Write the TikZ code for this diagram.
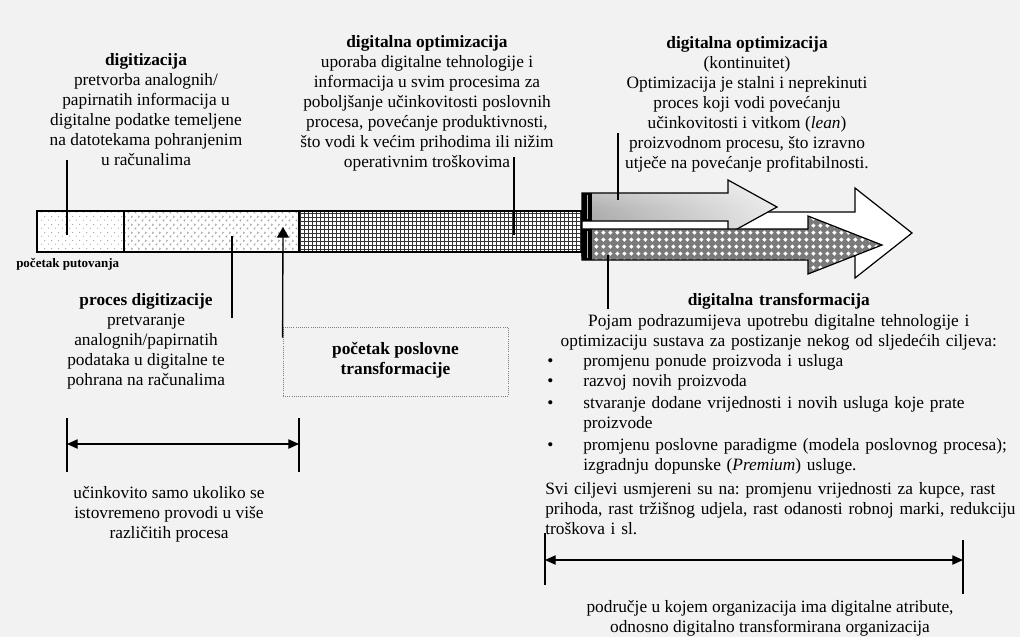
\documentclass[tikz,border=0pt]{standalone}
\usepackage{fontspec}
\setmainfont{Liberation Serif}
\usetikzlibrary{patterns,patterns.meta,arrows.meta,fadings}
\definecolor{bgcol}{HTML}{F2F2F2}
\frenchspacing
\pgfdeclarepattern{
  name=sparsedots, type=uncolored,
  bottom left={\pgfpoint{0pt}{0pt}}, top right={\pgfpoint{5pt}{6pt}},
  tile size={\pgfpoint{5pt}{6pt}},
  code={
    \pgfpathcircle{\pgfpoint{1.2pt}{1.5pt}}{0.45pt}
    \pgfpathcircle{\pgfpoint{3.7pt}{4.5pt}}{0.45pt}
    \pgfusepath{fill}
  }
}
\pgfdeclarepattern{
  name=chevs, type=uncolored,
  bottom left={\pgfpoint{0pt}{0pt}}, top right={\pgfpoint{5pt}{6pt}},
  tile size={\pgfpoint{5pt}{6pt}},
  code={
    \pgfsetlinewidth{0.45pt}
    \pgfpathmoveto{\pgfpoint{1.8pt}{0.5pt}}
    \pgfpathlineto{\pgfpoint{0.7pt}{1.3pt}}
    \pgfpathlineto{\pgfpoint{1.8pt}{2.1pt}}
    \pgfusepath{stroke}
    \pgfpathmoveto{\pgfpoint{3.2pt}{3.5pt}}
    \pgfpathlineto{\pgfpoint{4.3pt}{4.3pt}}
    \pgfpathlineto{\pgfpoint{3.2pt}{5.1pt}}
    \pgfusepath{stroke}
  }
}
\pgfdeclarepattern{
  name=diams, type=uncolored,
  bottom left={\pgfpoint{0pt}{0pt}}, top right={\pgfpoint{5.5pt}{5.5pt}},
  tile size={\pgfpoint{5.5pt}{5.5pt}},
  code={
    \pgfpathmoveto{\pgfpoint{2.75pt}{1.0pt}}
    \pgfpathlineto{\pgfpoint{4.5pt}{2.75pt}}
    \pgfpathlineto{\pgfpoint{2.75pt}{4.5pt}}
    \pgfpathlineto{\pgfpoint{1.0pt}{2.75pt}}
    \pgfpathclose
    \pgfusepath{fill}
  }
}
\newlength\rw \setlength\rw{350.25pt}
\newcommand\bitem[1]{\makebox[28.5pt][l]{\hspace{1.5pt}\textbullet}#1}
\begin{document}
\begin{tikzpicture}[x=0.75pt,y=-0.75pt,
  txt/.style={font=\fontsize{13}{15}\selectfont, align=center, inner sep=0pt, anchor=north},
  ptr/.style={line width=1pt, black},
  dimline/.style={line width=0.9pt, black},
  dimarrow/.style={line width=0.9pt, black, {Triangle[length=8pt,width=7pt]}-{Triangle[length=8pt,width=7pt]}},
  arrowline/.style={line width=0.9pt, black, line join=miter}
]
\useasboundingbox (0,0) rectangle (1020,637);
\fill[bgcol] (0,0) rectangle (1020,637);

% ---- bar
\fill[white] (37,211) rectangle (582,252);
\path[pattern=sparsedots, pattern color=gray!80] (37,211) rectangle (124,252);
\path[pattern=chevs, pattern color=gray!80] (124,211) rectangle (299,252);
\path[pattern={Hatch[angle=0,distance=3pt,line width=0.55pt]}, pattern color=black!80] (299,211) rectangle (582,252);
\draw[line width=1pt] (37,211) rectangle (582,252);
\draw[line width=0.9pt] (124,211) -- (124,252) (299,211) -- (299,252);

% ---- big white arrow
\draw[arrowline, fill=white] (582,212) -- (855,212) -- (855,188) -- (912,233) -- (855,278) -- (855,256) -- (582,256) -- cycle;
% ---- gray arrow
\path[top color=gray!35, bottom color=gray!75, middle color=gray!62] (582,193) -- (728,193) -- (728,180) -- (777,207) -- (728,234) -- (728,221) -- (582,221) -- cycle;
\fill[white, path fading=west, fill opacity=0.75] (582,193) -- (728,193) -- (728,180) -- (777,207) -- (728,234) -- (728,221) -- (582,221) -- cycle;
\draw[arrowline] (582,193) -- (728,193) -- (728,180) -- (777,207) -- (728,234) -- (728,221) -- (582,221) -- cycle;
% ---- checker arrow
\path[preaction={fill=black!52}, pattern=diams, pattern color=white] (582,229) -- (808,229) -- (808,216) -- (882,245) -- (808,274) -- (808,260) -- (582,260) -- cycle;
\draw[arrowline] (582,229) -- (808,229) -- (808,216) -- (882,245) -- (808,274) -- (808,260) -- (582,260) -- cycle;
% ---- dark end bands
\fill[black] (582,193) rectangle (592,221);
\fill[black] (582,229) rectangle (592,260);
\draw[gray!60, line width=0.8pt] (587.5,195) -- (587.5,219) (587.5,231) -- (587.5,258);

% ---- text blocks
\node[txt] (dig) at (146,51) {\strut\textbf{digitizacija}\\pretvorba analognih/\\papirnatih informacija u\\digitalne podatke temeljene\\na datotekama pohranjenim\\u računalima};
\node[txt] (opt) at (427,33) {\strut\textbf{digitalna optimizacija}\\uporaba digitalne tehnologije i\\informacija u svim procesima za\\poboljšanje učinkovitosti poslovnih\\procesa, povećanje produktivnosti,\\što vodi k većim prihodima ili nižim\\operativnim troškovima};
\node[txt] (kont) at (747,34) {\strut\textbf{digitalna optimizacija}\\(kontinuitet)\\Optimizacija je stalni i neprekinuti\\proces koji vodi povećanju\\učinkovitosti i vitkom (\textit{lean})\\proizvodnom procesu, što izravno\\utječe na povećanje profitabilnosti.};
\node[txt] (proc) at (146,291) {\strut\textbf{proces digitizacije}\\pretvaranje\\analognih/papirnatih\\podataka u digitalne te\\pohrana na računalima};
\node[txt] (eff) at (169,484) {\strut učinkovito samo ukoliko se\\istovremeno provodi u više\\različitih procesa};
\node[txt] (area) at (770,598) {\strut područje u kojem organizacija ima digitalne atribute,\\odnosno digitalno transformirana organizacija};
\node[font=\bfseries\fontsize{9.75}{11}\selectfont, anchor=base west, inner sep=0pt] (start) at (16,267) {početak putovanja};
\node[txt, anchor=center, draw=gray, densely dotted, line width=0.6pt, minimum width=168.75pt, minimum height=51.75pt, font=\bfseries\fontsize{13}{15}\selectfont] (ptbox) at (395.5,361.5) {početak poslovne\\transformacije\strut};
\node[txt, anchor=north west, align=left, text width=\rw] (dtr) at (545,291) {%
\strut\makebox[\rw]{\textbf{digitalna transformacija}}\\[0.75pt]
\makebox[\rw]{Pojam podrazumijeva upotrebu digitalne tehnologije i}\\
\makebox[\rw]{optimizaciju sustava za postizanje nekog od sljedećih ciljeva:}\\
\bitem{promjenu ponude proizvoda i usluga}\\
\bitem{razvoj novih proizvoda}\\[1.5pt]
\bitem{\makebox[321.75pt][s]{stvaranje dodane vrijednosti i novih usluga koje prate}}\\
\hspace*{28.5pt}proizvode\\[1.5pt]
\bitem{promjenu poslovne paradigme (modela poslovnog procesa);}\\
\hspace*{28.5pt}izgradnju dopunske (\textit{Premium}) usluge.\\[3pt]
\makebox[\rw][s]{Svi ciljevi usmjereni su na: promjenu vrijednosti za kupce, rast}\\
\makebox[\rw][s]{prihoda, rast tržišnog udjela, rast odanosti robnoj marki, redukciju}\\
troškova i sl.};

% ---- pointer lines
\coordinate (digA) at (67,160);   \coordinate (digB) at (67,235);
\coordinate (optA) at (514,157);  \coordinate (optB) at (514,235);
\coordinate (konA) at (618,133);  \coordinate (konB) at (618,200);
\coordinate (proA) at (232,236);  \coordinate (proB) at (232,318);
\coordinate (dtrA) at (608,255);  \coordinate (dtrB) at (608,309);
\coordinate (upTip) at (283,227);
\draw[ptr] (digA) -- (digB);
\draw[ptr] (optA) -- (optB);
\draw[ptr] (konA) -- (konB);
\draw[ptr] (proA) -- (proB);
\draw[ptr] (dtrA) -- (dtrB);
\draw[ptr, -{Triangle[length=8pt,width=9pt]}] ([yshift=-8.25pt]ptbox.north west) -- (upTip);

% ---- dimension lines
\coordinate (l1a) at (67,418);  \coordinate (l1b) at (67,472);
\coordinate (l2a) at (299,418); \coordinate (l2b) at (299,472);
\coordinate (l1m) at (67,444);  \coordinate (l2m) at (299,444);
\draw[dimline] (l1a) -- (l1b);
\draw[dimline] (l2a) -- (l2b);
\draw[dimarrow] (l1m) -- (l2m);
\coordinate (r1a) at (545,533); \coordinate (r1b) at (545,585);
\coordinate (r2a) at (963,540); \coordinate (r2b) at (963,594);
\coordinate (r1m) at (545,560); \coordinate (r2m) at (963,560);
\draw[dimline] (r1a) -- (r1b);
\draw[dimline] (r2a) -- (r2b);
\draw[dimarrow] (r1m) -- (r2m);
\end{tikzpicture}
\end{document}
